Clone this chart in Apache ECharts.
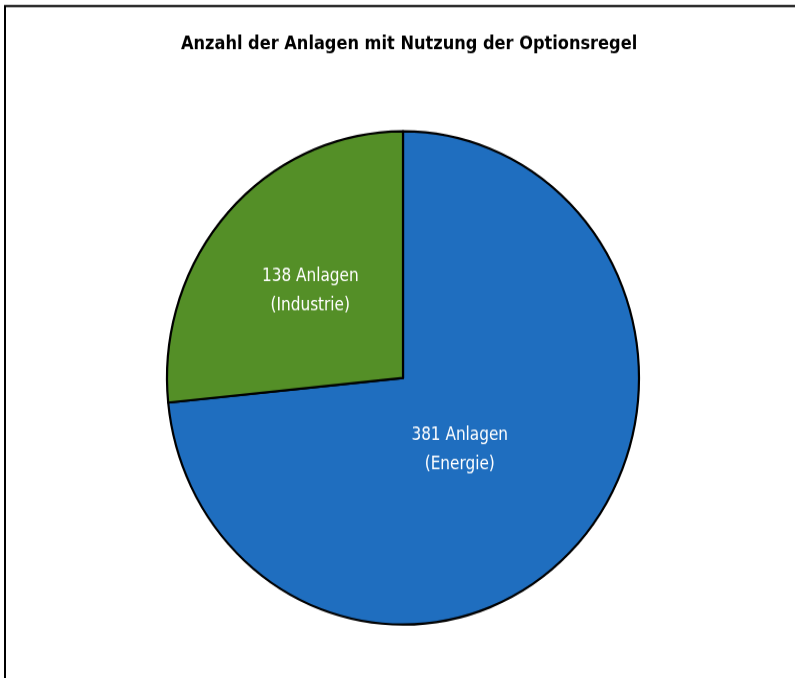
<!DOCTYPE html>
<html>
<head>
<meta charset="utf-8">
<script src="https://cdn.jsdelivr.net/npm/echarts@6/dist/echarts.min.js"></script>
<style>
html,body{margin:0;padding:0;background:#fff;width:795px;height:678px;overflow:hidden;}
/* Vorlage ist leicht vertikal gestreckt */
#chart{width:795px;height:678px;transform:scaleY(1.045);transform-origin:0 0;}
</style>
</head>
<body>
<div id="chart"></div>
<script>
// Daten
var categories = ["Energie", "Industrie"];
var anlagen = [381, 138];
var colors = ["#1f6ebf", "#548f27"];

var pieData = [];
for (var i = 0; i < categories.length; i++) {
    pieData.push({
        name: categories[i],
        value: anlagen[i],
        itemStyle: { color: colors[i] }
    });
}

var chart = echarts.init(document.getElementById('chart'));
var option = {
    animation: false,
    title: {
        text: "Anzahl der Anlagen mit Nutzung der Optionsregel",
        left: 176,
        top: 28,
        textStyle: {
            fontFamily: "DejaVu Sans Condensed",
            fontWeight: 'bold',
            fontSize: 18,
            color: "#000"
        }
    },
    graphic: [
        // Rahmen oben und links
        { type: 'line', shape: { x1: 4, y1: 5.7, x2: 795, y2: 5.7 }, style: { stroke: '#000', lineWidth: 2 } },
        { type: 'line', shape: { x1: 5, y1: 5, x2: 5, y2: 678 }, style: { stroke: '#000', lineWidth: 2 } }
    ],
    series: [
        {
            type: 'pie',
            center: [403, 361.7],
            radius: 236,
            startAngle: 90,
            clockwise: true,
            itemStyle: {
                borderColor: '#000',
                borderWidth: 2.2
            },
            label: {
                show: true,
                position: 'inside',
                color: '#fff',
                fontFamily: "DejaVu Sans Condensed",
                fontSize: 17,
                lineHeight: 28,
                formatter: function (p) {
                    return p.value + " Anlagen\n(" + p.name + ")";
                }
            },
            labelLayout: function (params) {
                if (params.dataIndex === 0) {
                    return { dx: -33, dy: -12 };
                }
                return { dx: -3, dy: -2 };
            },
            emphasis: { disabled: true },
            data: pieData
        }
    ]
};
chart.setOption(option);
</script>
</body>
</html>
